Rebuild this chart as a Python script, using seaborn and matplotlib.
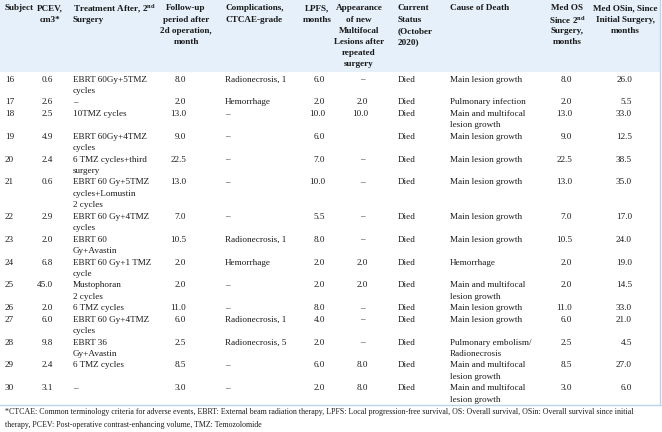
import matplotlib
matplotlib.use("Agg")
import matplotlib.pyplot as plt
from matplotlib.patches import Rectangle
import seaborn as sns
import numpy as np

# ---------------- data ----------------
subjects = [16, 17, 18, 19, 20, 21, 22, 23, 24, 25, 26, 27, 28, 29, 30]
pcev = [0.6, 2.6, 2.5, 4.9, 2.4, 0.6, 2.9, 2.0, 6.8, 45.0, 2.0, 6.0, 9.8, 2.4, 3.1]
treatment = ["EBRT 60Gy+5TMZ\ncycles", "–", "10TMZ cycles", "EBRT 60Gy+4TMZ\ncycles",
             "6 TMZ cycles+third\nsurgery", "EBRT 60 Gy+5TMZ\ncycles+Lomustin\n2 cycles",
             "EBRT 60 Gy+4TMZ\ncycles", "EBRT 60\nGy+Avastin", "EBRT 60 Gy+1 TMZ\ncycle",
             "Mustophoran\n2 cycles", "6 TMZ cycles", "EBRT 60 Gy+4TMZ\ncycles",
             "EBRT 36\nGy+Avastin", "6 TMZ cycles", "–"]
followup = [8.0, 2.0, 13.0, 9.0, 22.5, 13.0, 7.0, 10.5, 2.0, 2.0, 11.0, 6.0, 2.5, 8.5, 3.0]
complications = ["Radionecrosis, 1", "Hemorrhage", "–", "–", "–", "–", "–", "Radionecrosis, 1",
                 "Hemorrhage", "–", "–", "Radionecrosis, 1", "Radionecrosis, 5", "–", "–"]
lpfs = [6.0, 2.0, 10.0, 6.0, 7.0, 10.0, 5.5, 8.0, 2.0, 2.0, 8.0, 4.0, 2.0, 6.0, 2.0]
appearance = ["–", 2.0, 10.0, "", "–", "–", "–", "–", 2.0, 2.0, "–", "–", "–", 8.0, 8.0]
status = ["Died"] * 15
cause = ["Main lesion growth", "Pulmonary infection", "Main and multifocal\nlesion growth",
         "Main lesion growth", "Main lesion growth", "Main lesion growth", "Main lesion growth",
         "Main lesion growth", "Hemorrhage", "Main and multifocal\nlesion growth",
         "Main lesion growth", "Main lesion growth", "Pulmonary embolism/\nRadionecrosis",
         "Main and multifocal\nlesion growth", "Main and multifocal\nlesion growth"]
med_os = [8.0, 2.0, 13.0, 9.0, 22.5, 13.0, 7.0, 10.5, 2.0, 2.0, 11.0, 6.0, 2.5, 8.5, 3.0]
med_osin = [26.0, 5.5, 33.0, 12.5, 38.5, 35.0, 17.0, 24.0, 19.0, 14.5, 33.0, 21.0, 4.5, 27.0, 6.0]

headers = ["Subject", "PCEV,\ncm3*", "Treatment After, 2$^{\\mathbf{nd}}$\nSurgery",
           "Follow-up\nperiod after\n2d operation,\nmonth", "Complications,\nCTCAE-grade",
           "LPFS,\nmonths", "Appearance\nof new\nMultifocal\nLesions after\nrepeated\nsurgery",
           "Current\nStatus\n(October\n2020)", "Cause of Death",
           "Med OS\nSince 2$^{\\mathbf{nd}}$\nSurgery,\nmonths",
           "Med OSin, Since\nInitial Surgery,\nmonths"]
footnote = ("*CTCAE: Common terminology criteria for adverse events, EBRT: External beam radiation therapy, "
            "LPFS: Local progression-free survival, OS: Overall survival, OSin: Overall survival since initial\n"
            "therapy, PCEV: Post-operative contrast-enhancing volume, TMZ: Temozolomide")

# ---------------- style ----------------
sns.set_theme(style="white")
plt.rcParams["font.family"] = ["Liberation Serif", "DejaVu Serif"]
plt.rcParams["mathtext.fontset"] = "custom"
plt.rcParams["mathtext.rm"] = "Liberation Serif"
plt.rcParams["mathtext.bf"] = "Liberation Serif:bold"

W, H = 662, 432
fig = plt.figure(figsize=(W / 100, H / 100), dpi=100)
ax = fig.add_axes([0, 0, 1, 1])
ax.set_xlim(0, W)
ax.set_ylim(H, 0)
ax.axis("off")

HEADER_BG = "#e5f0fa"
LINE_C = "#b9d6ee"
FS = 6.6
HFS = 6.6
LH = 11.44

ax.add_patch(Rectangle((0, 0), 660, 72, color=HEADER_BG, zorder=0, lw=0))
ax.plot([660, 660], [0, 405], color=LINE_C, lw=1.0)
ax.plot([0, 662], [405, 405], color=LINE_C, lw=1.0)

# column layout: (x, ha) for text; numeric columns right aligned
col_text = {"subj": (5, "left"), "treat": (73, "left"), "comp": (225, "left"),
            "stat": (398, "left"), "cause": (450, "left")}
col_num = {"pcev": 53, "fu": 186, "lpfs": 325, "app": 368, "os": 572, "osin": 632}
dash_x = {"app": 362}

hdr_pos = [(5, "left"), (50, "center"), (73, "left"), (186, "center"), (225, "left"),
           (317, "center"), (359, "center"), (398, "left"), (450, "left"),
           (567, "center"), (625, "center")]

def draw_lines(x, y0, s, ha, fs, weight="normal", lh=LH):
    for k, line in enumerate(str(s).split("\n")):
        ax.text(x, y0 + k * lh, line, ha=ha, va="center", fontsize=fs,
                fontweight=weight, color="#1a1a1a")

for h, (x, ha) in zip(headers, hdr_pos):
    draw_lines(x, 8.5, h, ha, HFS, "bold", 11.2)

def fmt(v):
    if isinstance(v, str):
        return v
    return f"{v:.1f}"

y = 79.5
for i in range(len(subjects)):
    cells_text = [("subj", str(subjects[i])), ("treat", treatment[i]), ("comp", complications[i]),
                  ("stat", status[i]), ("cause", cause[i])]
    cells_num = [("pcev", pcev[i]), ("fu", followup[i]), ("lpfs", lpfs[i]),
                 ("app", appearance[i]), ("os", med_os[i]), ("osin", med_osin[i])]
    nlines = max(len(str(t).split("\n")) for _, t in cells_text)
    for key, t in cells_text:
        x, ha = col_text[key]
        draw_lines(x, y, t, ha, FS)
    for key, v in cells_num:
        s = fmt(v)
        if s == "":
            continue
        if s == "–":
            draw_lines(dash_x.get(key, col_num[key] - 6), y, s, "center", FS)
        else:
            draw_lines(col_num[key], y, s, "right", FS)
    y += nlines * LH

draw_lines(5, 412.5, footnote, "left", 5.7, lh=12.5)

fig.savefig("out.png", dpi=100, facecolor="white")
